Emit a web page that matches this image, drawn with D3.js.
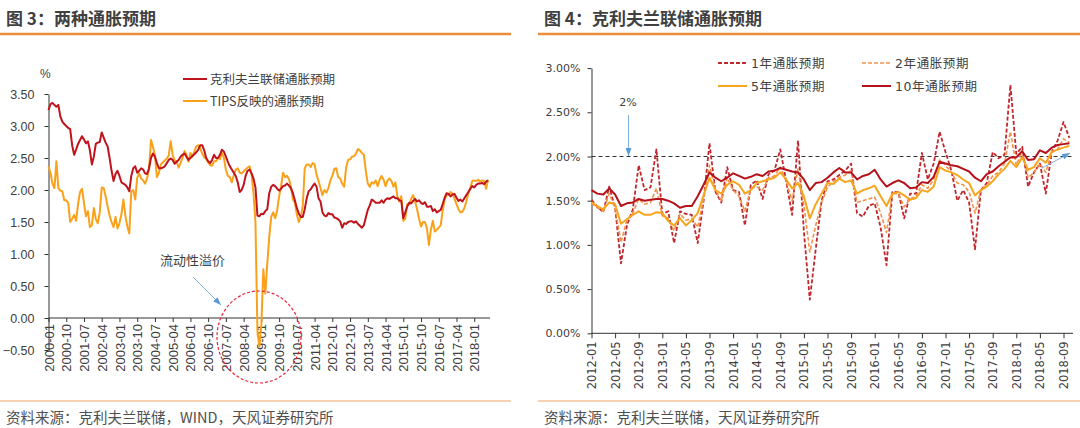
<!DOCTYPE html>
<html><head><meta charset="utf-8">
<script src="https://cdn.jsdelivr.net/npm/d3@7"></script>
<style>
body{margin:0;background:#fff;}
svg{display:block;}
</style></head><body>
<svg id="c" width="1080" height="428"></svg>
<script>
// ---------------- DATA ----------------
// Left chart (图3): monthly 2000-01 .. 2018-08
const leftStart = "2000-01", leftEnd = "2018-08";
const clevelandFed = [
3.25,3.34,3.36,3.33,3.30,3.33,3.15,3.07,3.03,3.00,
2.97,2.95,2.70,2.55,2.63,2.72,2.78,2.84,2.79,2.73,
2.76,2.62,2.40,2.52,2.72,2.74,2.75,2.90,2.82,2.74,
2.68,2.50,2.30,2.14,2.25,2.30,2.22,2.12,2.10,2.08,
2.04,1.98,2.22,2.34,2.37,2.27,2.30,2.34,2.32,2.26,
2.25,2.34,2.50,2.57,2.52,2.42,2.34,2.34,2.35,2.37,
2.42,2.47,2.49,2.47,2.41,2.44,2.47,2.52,2.55,2.57,
2.52,2.47,2.50,2.53,2.56,2.59,2.63,2.70,2.70,2.62,
2.50,2.45,2.42,2.47,2.55,2.50,2.50,2.55,2.63,2.60,
2.52,2.44,2.37,2.32,2.27,2.22,2.12,1.97,2.00,2.08,
2.22,2.30,2.32,2.26,2.18,2.04,1.60,1.59,1.63,1.62,
1.67,1.70,1.95,2.05,2.08,2.06,2.02,1.99,2.02,2.06,
2.07,2.10,2.07,2.03,1.95,1.84,1.72,1.63,1.58,1.58,
1.70,1.87,1.98,2.01,2.06,2.10,2.05,1.87,1.82,1.65,
1.60,1.59,1.64,1.62,1.62,1.57,1.56,1.54,1.51,1.41,
1.48,1.47,1.50,1.51,1.51,1.49,1.51,1.47,1.44,1.41,
1.45,1.57,1.69,1.76,1.85,1.83,1.80,1.80,1.80,1.84,
1.80,1.85,1.87,1.86,1.88,1.90,1.87,1.87,1.84,1.83,
1.56,1.65,1.74,1.80,1.79,1.83,1.86,1.82,1.84,1.80,
1.78,1.81,1.74,1.74,1.75,1.67,1.70,1.65,1.67,1.69,
1.78,1.88,1.95,1.94,1.90,1.93,1.94,1.88,1.83,1.85,
1.82,1.87,1.92,1.97,2.02,2.06,2.04,2.08,2.10,2.10,
2.11,2.09,2.13,2.15];
const tipsBreakeven = [
2.37,2.27,2.10,2.03,2.45,2.03,1.99,1.98,1.84,1.84,
1.80,1.50,1.55,1.61,1.52,1.78,1.97,2.02,1.80,1.59,
1.67,1.42,1.45,1.72,1.55,1.48,1.65,2.04,2.03,1.90,
1.74,1.60,1.50,1.42,1.58,1.40,1.48,1.62,1.85,1.60,
1.43,1.32,1.98,2.00,1.85,2.19,2.26,2.18,2.15,2.10,
2.18,2.32,2.78,2.67,2.55,2.20,2.27,2.40,2.43,2.46,
2.49,2.54,2.76,2.55,2.46,2.45,2.35,2.42,2.50,2.61,
2.55,2.44,2.58,2.52,2.60,2.68,2.70,2.65,2.57,2.51,
2.49,2.43,2.39,2.38,2.45,2.45,2.50,2.48,2.58,2.50,
2.32,2.22,2.20,2.12,2.23,2.32,2.34,2.27,2.26,2.29,
2.32,2.35,2.37,2.25,1.95,1.50,-0.20,-0.45,-0.10,0.76,
0.38,0.85,1.27,1.58,1.65,1.56,1.68,1.90,2.06,2.27,
2.20,2.22,2.17,2.05,1.85,1.80,1.62,1.50,1.58,1.75,
2.34,2.40,2.40,2.36,2.42,2.40,2.24,2.14,2.03,1.92,
2.00,1.96,2.03,2.15,2.22,2.33,2.34,2.20,2.18,2.10,
2.05,2.35,2.47,2.48,2.52,2.53,2.57,2.64,2.62,2.58,
2.55,2.30,2.10,2.05,2.12,2.10,2.15,2.06,2.16,2.22,
2.16,2.06,2.15,2.18,2.14,2.05,2.12,1.90,1.82,1.90,
1.52,1.55,1.78,1.78,1.86,1.92,1.82,1.70,1.55,1.43,
1.50,1.50,1.40,1.14,1.38,1.52,1.35,1.38,1.41,1.45,
1.68,1.85,1.92,1.92,1.97,1.94,1.86,1.78,1.70,1.65,
1.66,1.72,1.82,1.94,2.03,2.14,2.15,2.14,2.16,2.13,
2.15,2.14,2.02,2.16];
const leftTickLabels = ["2000-01","2000-10","2001-07","2002-04","2003-01","2003-10","2004-07","2005-04","2006-01","2006-10","2007-07","2008-04","2009-01","2009-10","2010-07","2011-04","2012-01","2012-10","2013-07","2014-04","2015-01","2015-10","2016-07","2017-04","2018-01"];
const leftYTicks = [-0.5,0,0.5,1,1.5,2,2.5,3,3.5];
const leftSeriesNames = ["克利夫兰联储通胀预期","TIPS反映的通胀预期"];

// Right chart (图4): monthly 2012-01 .. 2018-10
const rightStart = "2012-01", rightEnd = "2018-10";
const exp1y = [
1.51,1.43,1.37,1.66,1.42,0.79,1.22,1.40,1.90,1.62,
1.65,2.08,1.35,1.38,1.02,1.38,1.35,1.34,1.02,1.50,
2.15,1.60,1.48,1.88,1.62,1.60,1.22,1.68,1.73,1.52,
1.80,1.84,2.08,1.72,1.34,2.18,1.15,0.38,0.95,1.50,
1.72,1.74,1.79,1.84,1.92,1.36,1.32,1.44,1.47,1.20,
0.77,1.60,1.60,1.30,1.58,1.58,2.04,1.74,1.92,2.28,
2.05,1.84,1.50,1.62,1.48,0.95,1.62,1.70,2.05,1.98,
2.02,2.81,2.03,2.11,1.66,1.82,1.92,1.58,2.05,2.18,
2.39,2.21];
const exp2y = [
1.47,1.42,1.38,1.58,1.42,1.03,1.28,1.36,1.52,1.46,
1.48,1.64,1.33,1.30,1.16,1.35,1.28,1.30,1.20,1.52,
1.90,1.62,1.50,1.76,1.62,1.55,1.38,1.64,1.66,1.62,
1.76,1.78,1.88,1.72,1.50,1.86,1.45,0.92,1.22,1.48,
1.65,1.72,1.76,1.79,1.84,1.48,1.50,1.52,1.54,1.36,
1.14,1.58,1.58,1.43,1.52,1.55,1.68,1.64,1.74,1.96,
1.90,1.82,1.70,1.68,1.60,1.36,1.62,1.68,1.78,1.82,
1.92,2.28,1.90,2.06,1.76,1.82,1.92,1.82,2.05,2.08,
2.20,2.16];
const exp5y = [
1.48,1.44,1.40,1.48,1.46,1.24,1.29,1.34,1.38,1.34,
1.34,1.37,1.36,1.27,1.22,1.30,1.22,1.28,1.36,1.56,
1.76,1.62,1.58,1.68,1.72,1.68,1.58,1.62,1.70,1.72,
1.74,1.76,1.82,1.74,1.64,1.70,1.55,1.30,1.46,1.58,
1.70,1.69,1.75,1.71,1.73,1.58,1.62,1.64,1.67,1.55,
1.44,1.58,1.60,1.56,1.51,1.53,1.62,1.60,1.66,1.88,
1.84,1.82,1.79,1.74,1.70,1.56,1.62,1.66,1.72,1.80,
1.86,1.95,1.88,1.99,1.85,1.88,1.98,1.93,2.05,2.08,
2.10,2.12];
const exp10y = [
1.62,1.58,1.57,1.64,1.57,1.44,1.47,1.48,1.52,1.50,
1.51,1.52,1.52,1.50,1.47,1.42,1.44,1.44,1.55,1.68,
1.82,1.76,1.72,1.76,1.81,1.78,1.75,1.77,1.80,1.78,
1.83,1.84,1.87,1.85,1.83,1.82,1.74,1.62,1.70,1.71,
1.76,1.82,1.87,1.82,1.82,1.74,1.78,1.80,1.85,1.74,
1.66,1.70,1.73,1.70,1.64,1.65,1.71,1.70,1.77,1.94,
1.92,1.90,1.89,1.86,1.83,1.76,1.72,1.80,1.83,1.89,
1.94,1.99,1.99,2.06,1.96,1.97,2.07,2.04,2.10,2.13,
2.14,2.15];
const rightTickLabels = ["2012-01","2012-05","2012-09","2013-01","2013-05","2013-09","2014-01","2014-05","2014-09","2015-01","2015-05","2015-09","2016-01","2016-05","2016-09","2017-01","2017-05","2017-09","2018-01","2018-05","2018-09"];
const rightYTicks = [0,0.5,1,1.5,2,2.5,3];
const rightSeriesNames = ["1年通胀预期","2年通胀预期","5年通胀预期","10年通胀预期"];
const targetLevel = 2.0;

// ---------------- DRAW ----------------
const svg = d3.select("#c");
const fmt = d3.timeFormat("%Y-%m"), parse = d3.timeParse("%Y-%m");
const monthsBetween = (a,b) => d3.timeMonth.range(parse(a), d3.timeMonth.offset(parse(b),1)).map(fmt);
const leftMonths = monthsBetween(leftStart, leftEnd);
const rightMonths = monthsBetween(rightStart, rightEnd);

const TXT = "#404040";
const CJK = "'Noto Sans CJK SC','Noto Sans',sans-serif";
const ORANGE_RULE = "#ee8c3e";

const defs = svg.append("defs");
defs.append("marker").attr("id","arr").attr("viewBox","0 0 8 6").attr("refX",8).attr("refY",3)
  .attr("markerWidth",8).attr("markerHeight",6).attr("markerUnits","userSpaceOnUse").attr("orient","auto")
  .append("path").attr("d","M0,0 L8,3 L0,6 Z").attr("fill","#5b9bd5");

// Headers & footers
function frame(x0, x1, title, source){
  svg.append("text").attr("x",x0+6).attr("y",25).text(title)
    .attr("font-family",CJK).attr("font-weight","bold").attr("font-size",17).attr("fill",TXT);
  svg.append("line").attr("x1",x0).attr("x2",x1).attr("y1",34).attr("y2",34)
    .attr("stroke",ORANGE_RULE).attr("stroke-width",2.5);
  svg.append("line").attr("x1",x0).attr("x2",x1).attr("y1",401).attr("y2",401)
    .attr("stroke","#f0a468").attr("stroke-width",1);
  svg.append("text").attr("x",x0+6).attr("y",423).text(source)
    .attr("font-family",CJK).attr("font-size",14.5).attr("fill","#505050");
}
frame(0, 511, "图 3：两种通胀预期", "资料来源：克利夫兰联储，WIND，天风证券研究所");
frame(538, 1080, "图 4：克利夫兰联储通胀预期", "资料来源：克利夫兰联储，天风证券研究所");

// ===== Left chart =====
const xL = d3.scalePoint().domain(leftMonths).range([48.5, 48.5 + (leftMonths.length-1)*1.971]);
const yL = d3.scaleLinear().domain([-0.5, 3.5]).range([350, 94]);
const gL = svg.append("g");

const yAxL = gL.append("g").attr("transform","translate(48.5,0)")
  .call(d3.axisLeft(yL).tickValues(leftYTicks).tickFormat(d3.format(".2f")).tickSize(4).tickPadding(10).tickSizeOuter(0));
yAxL.select(".domain").attr("stroke","#333");
yAxL.selectAll(".tick line").attr("stroke","#333");
yAxL.selectAll("text").attr("font-family","'Liberation Sans',Arial,sans-serif").attr("font-size",12.5).attr("fill",TXT);

const xAxL = gL.append("g").attr("transform",`translate(0,${yL(0)})`)
  .call(d3.axisBottom(xL).tickValues(leftTickLabels).tickSize(4).tickSizeOuter(0));
xAxL.select(".domain").remove();
xAxL.selectAll(".tick line").attr("stroke","#333");
xAxL.selectAll("text").attr("transform","rotate(-90)").attr("x",-6).attr("y",0).attr("dy","0.35em")
  .attr("text-anchor","end").attr("font-family","'Liberation Sans',Arial,sans-serif").attr("font-size",13).attr("fill",TXT);
gL.append("line").attr("x1",48.5).attr("x2",490).attr("y1",yL(0)).attr("y2",yL(0)).attr("stroke","#333");

const lineL = d3.line().x((d,i)=>xL(leftMonths[i])).y(d=>yL(d));
gL.append("path").datum(tipsBreakeven).attr("d",lineL).attr("fill","none").attr("stroke","#f9a11b").attr("stroke-width",2).attr("stroke-linejoin","round");
gL.append("path").datum(clevelandFed).attr("d",lineL).attr("fill","none").attr("stroke","#c0141c").attr("stroke-width",2).attr("stroke-linejoin","round");

gL.append("text").attr("x",40).attr("y",78).text("%").attr("font-family","'Liberation Sans',Arial,sans-serif").attr("font-size",12).attr("fill",TXT);

// legend left
[[leftSeriesNames[0],"#c0141c",79],[leftSeriesNames[1],"#f9a11b",101]].forEach(([n,c,y])=>{
  gL.append("line").attr("x1",183).attr("x2",207).attr("y1",y).attr("y2",y).attr("stroke",c).attr("stroke-width",2);
  gL.append("text").attr("x",210).attr("y",y+4.5).text(n).attr("font-family",CJK).attr("font-size",12.5).attr("fill",TXT);
});

// annotation: liquidity premium
gL.append("text").attr("x",160).attr("y",265).text("流动性溢价").attr("font-family",CJK).attr("font-size",13).attr("fill",TXT);
gL.append("line").attr("x1",193).attr("y1",277).attr("x2",221).attr("y2",305)
  .attr("stroke","#7fb0de").attr("stroke-width",1).attr("marker-end","url(#arr)");
gL.append("ellipse").attr("cx",259).attr("cy",337).attr("rx",42).attr("ry",46)
  .attr("fill","none").attr("stroke","#e8293a").attr("stroke-width",1.2).attr("stroke-dasharray","3,2");

// ===== Right chart =====
const xR = d3.scalePoint().domain(rightMonths).range([591.5, 591.5 + (rightMonths.length-1)*5.9]);
const yR = d3.scaleLinear().domain([0, 3]).range([333.3, 68.1]);
const gR = svg.append("g");

const yAxR = gR.append("g").attr("transform","translate(591.5,0)")
  .call(d3.axisLeft(yR).tickValues(rightYTicks).tickFormat(d=>d3.format(".2f")(d)+"%").tickSize(4).tickPadding(7).tickSizeOuter(0));
yAxR.select(".domain").attr("stroke","#333");
yAxR.selectAll(".tick line").attr("stroke","#333");
yAxR.selectAll("text").attr("font-family","'DejaVu Sans',Verdana,sans-serif").attr("font-size",11).attr("fill",TXT);

const xAxR = gR.append("g").attr("transform",`translate(0,${yR(0)})`)
  .call(d3.axisBottom(xR).tickValues(rightTickLabels).tickSize(5).tickSizeOuter(0));
xAxR.select(".domain").remove();
xAxR.selectAll(".tick line").attr("stroke","#333");
xAxR.selectAll("text").attr("transform","rotate(-90)").attr("x",-8).attr("y",0).attr("dy","0.35em")
  .attr("text-anchor","end").attr("font-family","'DejaVu Sans',Verdana,sans-serif").attr("font-size",11.5).attr("fill",TXT);
gR.append("line").attr("x1",591.5).attr("x2",1073).attr("y1",yR(0)).attr("y2",yR(0)).attr("stroke","#333");

// 2% reference
gR.append("line").attr("x1",591.5).attr("x2",1073).attr("y1",yR(targetLevel)).attr("y2",yR(targetLevel))
  .attr("stroke","#333").attr("stroke-width",1).attr("stroke-dasharray","4,3");

const lineR = d3.line().x((d,i)=>xR(rightMonths[i])).y(d=>yR(d));
const rightStyles = [
  {data:exp1y, color:"#c1272d", w:1.8, dash:"4,2"},
  {data:exp2y, color:"#f2914a", w:1.6, dash:"4,2"},
  {data:exp5y, color:"#f6a51f", w:2, dash:null},
  {data:exp10y, color:"#b5121b", w:2, dash:null}
];
rightStyles.forEach(s=>{
  gR.append("path").datum(s.data).attr("d",lineR).attr("fill","none").attr("stroke",s.color)
    .attr("stroke-width",s.w).attr("stroke-dasharray",s.dash).attr("stroke-linejoin","round");
});

// legend right
const legPos = [[718,63],[862,63],[718,86],[862,86]];
rightSeriesNames.forEach((n,i)=>{
  const s = rightStyles[i], [lx,ly] = legPos[i];
  gR.append("line").attr("x1",lx).attr("x2",lx+29).attr("y1",ly).attr("y2",ly).attr("stroke",s.color)
    .attr("stroke-width",s.w).attr("stroke-dasharray",s.dash);
  gR.append("text").attr("x",lx+33).attr("y",ly+4.5).text(n).attr("font-family","'DejaVu Sans','Noto Sans CJK SC',sans-serif")
    .attr("font-size",12.5).attr("letter-spacing",0.6).attr("fill",TXT);
});

// 2% annotation
gR.append("text").attr("x",628).attr("y",106).attr("text-anchor","middle").text("2%")
  .attr("font-family","'DejaVu Sans',Verdana,sans-serif").attr("font-size",11).attr("fill",TXT);
gR.append("line").attr("x1",628.5).attr("y1",115).attr("x2",628.5).attr("y2",yR(targetLevel)-0.5)
  .attr("stroke","#7fb0de").attr("stroke-width",1).attr("marker-end","url(#arr)");
gR.append("line").attr("x1",1042).attr("y1",168).attr("x2",1070).attr("y2",153)
  .attr("stroke","#7fb0de").attr("stroke-width",1).attr("marker-end","url(#arr)");
</script>
</body></html>
